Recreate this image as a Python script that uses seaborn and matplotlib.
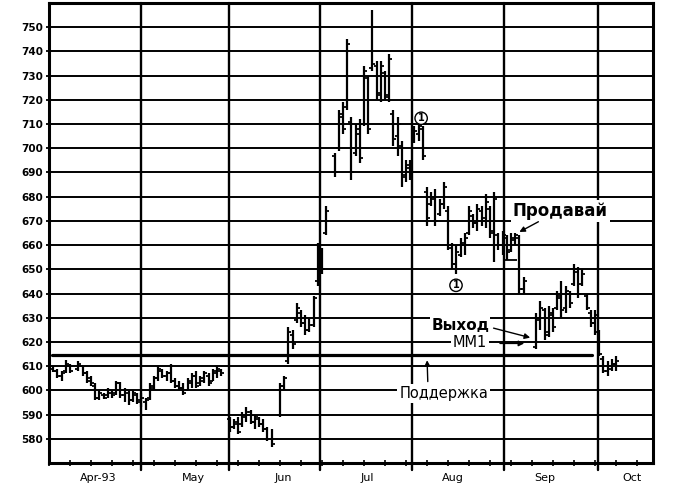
import numpy as np
import pandas as pd
import matplotlib
matplotlib.use("Agg")
import matplotlib.pyplot as plt
from matplotlib.lines import TICKLEFT, TICKRIGHT
import seaborn as sns

# ---- data (trading-day index, OHLC) ----
day = [1, 2, 3, 4, 5, 7, 8, 9, 10, 11, 12, 13, 14, 15, 16, 17, 18, 19, 20, 21,
       22, 23, 24, 25, 26, 27, 28, 29, 30, 31, 32, 33, 34, 35, 36, 37, 38, 39, 40, 41,
       43, 44, 45, 46, 47, 48, 49, 50, 51, 52, 53, 55, 56, 57, 58, 59, 60, 61, 62, 63,
       64, 65, 66, 68, 69, 70, 71, 72, 73, 74, 75, 76, 77, 78, 79, 80, 81, 82, 83, 84,
       85, 86, 87, 88, 89, 90, 91, 92, 93, 94, 95, 96, 97, 98, 99, 100, 101, 102, 103, 104,
       105, 106, 107, 108, 109, 110, 111, 112, 113, 116, 117, 118, 119, 120, 121, 122, 123, 124, 125, 126,
       127, 128, 129, 130, 131, 132, 133, 134, 135]
high = [610, 609, 608, 612.5, 611, 612, 610, 608, 606, 603, 600, 599, 601, 600, 604, 603.5, 601, 600, 600, 599,
        599, 597, 603, 606, 610, 609, 608, 611, 605, 604, 603, 605, 607, 608, 606, 608, 607, 609, 610, 609,
        589, 588, 589, 591, 593, 592, 590, 589, 588, 585, 584, 603, 606, 626, 625, 636, 633, 631, 630, 639,
        661, 659, 676, 698, 716, 719, 745, 713, 710, 712, 734, 730, 757, 736, 736, 732, 739, 716, 713, 703,
        695, 695, 709, 710, 709, 684, 682, 683, 679, 686, 676, 661, 660, 663, 665, 676, 673, 677, 676, 681,
        676, 682, 665, 666, 664, 665, 665, 664, 647, 632, 637, 634, 635, 634, 641, 645, 643, 641, 652, 651,
        650, 640, 633, 633, 625, 614, 612, 613, 614]
low = [607.5, 605, 604, 607, 607, 608, 606, 603, 602, 596, 596, 596.5, 597, 597, 598, 597, 595, 594, 595, 594.5,
       593, 592, 596, 600, 604, 605, 604, 603, 601, 600, 598, 600, 601, 601, 602, 603, 602, 604, 605, 606,
       583, 584, 582, 585, 587, 586, 584, 585, 583, 579, 576.5, 589, 600, 611, 617, 628, 626, 623, 624, 626,
       643, 648, 664, 688, 699, 706, 716, 687, 697, 694, 709, 706, 732, 720, 719, 720, 719, 701, 697, 684,
       686, 687, 702, 703, 695, 668, 676, 668, 672, 675, 658, 650, 648, 655, 656, 664, 667, 666, 668, 667,
       663, 653, 658, 656, 654, 657, 660, 640, 640, 617, 625, 621, 622, 624, 633, 630, 632, 634, 643, 638,
       643, 633, 626, 623, 614, 607, 606, 608, 608]
open_ = [609, 608, 606, 608, 610, 609, 610, 607, 605, 602, 597, 598, 598, 599, 599, 603, 598, 599, 596, 598,
         596, 595, 597, 601, 605, 608, 606, 607, 604, 602, 601, 600, 603, 606, 603, 604, 606, 604, 607, 608,
         588, 585, 586, 586, 589, 591, 587, 588, 586, 584, 580, 590, 602, 612, 623, 629, 632, 628, 625, 627,
         645, 657, 665, 697, 700, 713, 717, 711, 698, 706, 710, 729, 733, 734, 723, 731, 721, 714, 705, 701,
         689, 692, 703, 706, 708, 682, 677, 679, 673, 677, 674, 659, 652, 656, 660, 665, 672, 669, 674, 671,
         675, 666, 664, 660, 663, 658, 662, 663, 642, 618, 629, 633, 624, 631, 634, 638, 634, 640, 644, 649,
         644, 639, 632, 628, 624, 613, 608, 609, 611]
close = [608, 606, 607, 611, 608, 611, 607, 604, 603, 597, 599, 597, 600, 598, 603, 598, 600, 596, 599, 595,
         597, 596, 602, 605, 609, 606, 607, 604, 602, 601, 599, 604, 606, 602, 605, 607, 603, 608, 609, 607,
         585, 587, 583, 590, 591, 587, 589, 586, 584, 580, 578, 602, 605, 624, 619, 634, 628, 625, 627, 638,
         658, 650, 674, 690, 714, 708, 743, 690, 708, 696, 732, 708, 735, 722, 734, 722, 737, 704, 710, 688,
         693, 690, 707, 709, 697, 671, 680, 670, 677, 684, 660, 652, 657, 661, 663, 674, 669, 675, 670, 678,
         665, 679, 660, 664, 657, 663, 664, 642, 645, 630, 634, 623, 632, 626, 639, 633, 641, 636, 650, 640,
         648, 634, 628, 631, 615, 608, 610, 611, 612]

y_ticks = list(range(580, 751, 10))
month_lines = [21.9, 42.9, 64.5, 86.4, 108.3, 130.7]
month_label_pos = [11.7, 34.3, 55.7, 75.7, 96.2, 118.1, 138.8]
month_labels = ["Apr-93", "May", "Jun", "Jul", "Aug", "Sep", "Oct"]
support_x = [0.7, 129.3]
support_y = [614.5, 614.5]
stop_x = [108.6, 111.4]
stop_y = 653.7

sns.set_style("white")
plt.rcParams['font.family'] = ['DejaVu Sans']
plt.rcParams['text.color'] = 'black'
plt.rcParams['xtick.color'] = 'black'
plt.rcParams['ytick.color'] = 'black'
plt.rcParams['axes.labelcolor'] = 'black'

fig = plt.figure(figsize=(6.75, 4.95), dpi=100)
ax = fig.add_axes([0.0726, 0.0646, 0.8948, 0.9293])
ax.set_xlim(0, 143.8)
ax.set_ylim(570, 760)

for y in y_ticks:
    ax.axhline(y, color='black', lw=1.4, zorder=1)
for x in month_lines:
    ax.axvline(x, ymin=-0.016, ymax=1, color='black', lw=1.7, zorder=1, clip_on=False)

df = pd.DataFrame(dict(day=day, high=high, low=low, open=open_, close=close))
ax.vlines(df['day'], df['low'], df['high'], color='black', lw=1.6, zorder=3)
ax.plot(df['day'], df['open'], ls='none', marker=TICKLEFT, ms=2.5, mew=1.3, color='black', zorder=3)
ax.plot(df['day'], df['close'], ls='none', marker=TICKRIGHT, ms=2.5, mew=1.3, color='black', zorder=3)

support = pd.DataFrame({'x': support_x, 'y': support_y})
sns.lineplot(data=support, x='x', y='y', color='black', lw=2.3, ax=ax, zorder=2)
ax.hlines(stop_y, stop_x[0], stop_x[1], color='black', lw=1.3, zorder=3)
ax.set_xlabel('')
ax.set_ylabel('')

# ticks
ax.set_yticks(y_ticks)
ax.set_yticklabels([str(v) for v in y_ticks], fontsize=7.5, fontweight='bold', color='black')
ax.tick_params(axis='y', left=True, length=2.5, width=1.3, pad=2, color='black')
ax.set_xticks(month_label_pos)
ax.set_xticklabels(month_labels, fontsize=8, color='black')
ax.set_xticks(np.arange(0, 144, 5), minor=True)
ax.tick_params(axis='x', which='major', bottom=True, length=0, pad=7)
ax.tick_params(axis='x', which='minor', bottom=True, direction='inout', length=5, width=1.2, color='black')

for s in ax.spines.values():
    s.set_linewidth(2.2)
    s.set_color('black')

# annotations
def circ(x, y):
    ax.text(x, y, '1', ha='center', va='center', fontsize=7, color='black', fontweight='bold',
            bbox=dict(boxstyle='circle,pad=0.12', fc='white', ec='black', lw=1), zorder=6)

circ(88.6, 712.4)
circ(96.9, 643.4)

ax.text(121.7, 674.3, 'Продавай', ha='center', va='center', fontsize=12, fontweight='bold', color='black',
        bbox=dict(boxstyle='square,pad=0.12', fc='white', ec='none'), zorder=5)
ax.annotate('', xy=(111.4, 664.9), xytext=(117.1, 670.2),
            arrowprops=dict(arrowstyle='-|>', color='black', lw=1, mutation_scale=8), zorder=6)

ax.text(97.9, 626.7, 'Выход', ha='center', va='center', fontsize=11, fontweight='bold', color='black',
        bbox=dict(boxstyle='square,pad=0.05', fc='white', ec='none'), zorder=5)
ax.annotate('', xy=(115.2, 621.5), xytext=(105.2, 626.0),
            arrowprops=dict(arrowstyle='-|>', color='black', lw=1, mutation_scale=8), zorder=6)

ax.text(100.2, 619.8, 'MM1', ha='center', va='center', fontsize=10.5, color='black',
        bbox=dict(boxstyle='square,pad=0.15', fc='white', ec='none'), zorder=5)
ax.annotate('', xy=(113.8, 619.4), xytext=(106.7, 619.4),
            arrowprops=dict(arrowstyle='-|>', color='black', lw=1, mutation_scale=8), zorder=6)

ax.text(94.0, 598.8, 'Поддержка', ha='center', va='center', fontsize=10.5, color='black',
        bbox=dict(boxstyle='square,pad=0.15', fc='white', ec='none'), zorder=5)
ax.annotate('', xy=(90.0, 613.6), xytext=(90.2, 602.5),
            arrowprops=dict(arrowstyle='-|>', color='black', lw=1, mutation_scale=8), zorder=6)

fig.savefig('out.png', dpi=100)
